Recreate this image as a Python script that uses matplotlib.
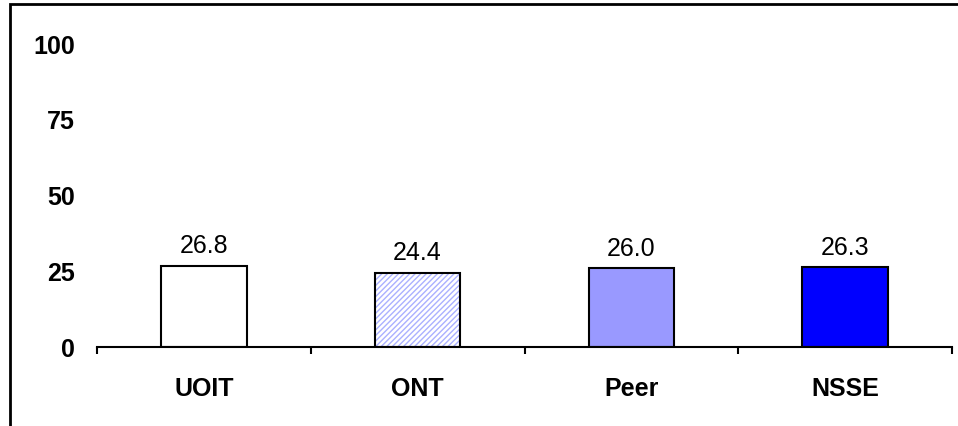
import matplotlib.pyplot as plt
from matplotlib.patches import Rectangle
import numpy as np

plt.rcParams['font.family'] = ['Liberation Sans', 'DejaVu Sans']

groups = ["UOIT", "ONT", "Peer", "NSSE"]
scores = [26.8, 24.4, 26.0, 26.3]
y_ticks = [0, 25, 50, 75, 100]

fill_colors = ["white", "white", "#9999ff", "#0000ff"]
hatches = [None, "//////", None, None]
hatch_colors = [None, "#aab0ff", None, None]

fig = plt.figure(figsize=(9.58, 4.27), dpi=100)
ax = fig.add_axes([97 / 958, 79 / 427, 855 / 958, 304 / 427])

x = np.arange(len(groups))
width = 0.4

for i in range(len(groups)):
    if hatches[i]:
        # hatch first with coloured lines, then a plain black outline on top
        ax.bar(x[i], scores[i], width, color="white", edgecolor=hatch_colors[i],
               hatch=hatches[i], linewidth=0, zorder=2)
        ax.bar(x[i], scores[i], width, fill=False, edgecolor="black",
               linewidth=1.5, zorder=3)
    else:
        ax.bar(x[i], scores[i], width, color=fill_colors[i], edgecolor="black",
               linewidth=1.5, zorder=3)
    ax.annotate(f"{scores[i]:.1f}", (x[i], scores[i]), xytext=(0, 6),
                textcoords="offset points", ha="center", va="bottom", fontsize=18)

ax.set_xlim(-0.5, len(groups) - 0.5)
ax.set_ylim(0, 100)

ax.set_xticks(x)
ax.set_xticklabels(groups, fontsize=18, fontweight="bold")
ax.set_xticks(np.arange(len(groups) + 1) - 0.5, minor=True)
ax.tick_params(axis="x", which="major", length=0, pad=21)
ax.tick_params(axis="x", which="minor", length=5, width=1.5, direction="out")

ax.set_yticks(y_ticks)
ax.set_yticklabels([str(v) for v in y_ticks], fontsize=18, fontweight="bold")
ax.tick_params(axis="y", length=0, pad=16)

for side in ["top", "right", "left"]:
    ax.spines[side].set_visible(False)
ax.spines["bottom"].set_linewidth(1.5)
ax.spines["bottom"].set_zorder(4)

# outer chart frame, running off the right and bottom edges
frame = Rectangle((10 / 958, -0.1), 1.0, (427 - 5) / 427 + 0.1,
                  transform=fig.transFigure, fill=False, edgecolor="black", linewidth=2)
fig.patches.append(frame)

fig.savefig("out.png", dpi=100)
